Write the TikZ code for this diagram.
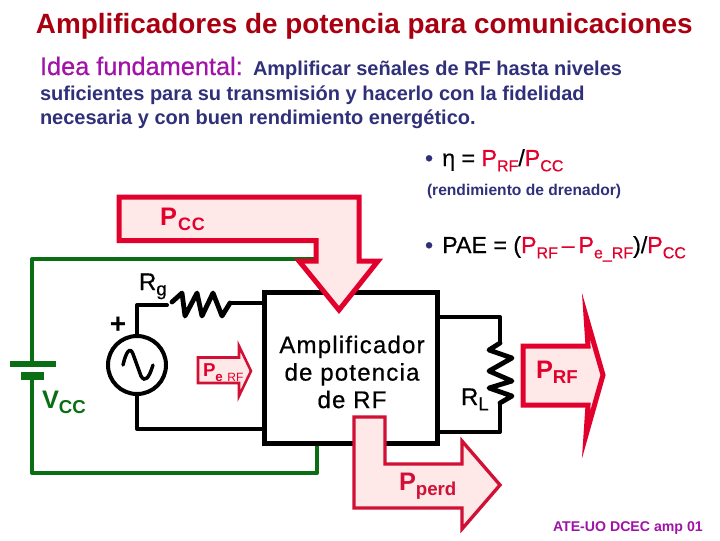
\documentclass[tikz,border=0pt]{standalone}
\usepackage{fontspec}
\setmainfont{Liberation Sans}
\newfontfamily\medfont[FakeBold=0.6]{Liberation Sans}
\usepackage{xcolor}
\usetikzlibrary{positioning,calc}
\definecolor{titlered}{HTML}{A80010}
\definecolor{ideapurple}{HTML}{A012A8}
\definecolor{inkblue}{HTML}{30307A}
\definecolor{powerred}{HTML}{E2002C}
\definecolor{lossred}{HTML}{D01034}
\definecolor{pinkbg}{HTML}{FFE8E8}
\definecolor{wiregreen}{HTML}{0A6E14}
\tikzset{
  txt/.style={anchor=base west,inner sep=0pt,outer sep=0pt},
  sz/.style={font=\fontsize{#1}{#1}\selectfont\medfont},
  szb/.style={font=\fontsize{#1}{#1}\selectfont\bfseries},
  flowarr/.style={draw=powerred,fill=pinkbg,line width=3.75pt,miter limit=12},
  blackwire/.style={draw=black,line width=3pt,line join=round,line cap=round},
  zigzag/.style={draw=black,line width=3.6pt,line join=round,line cap=round},
  greenwire/.style={draw=wiregreen,line width=3pt,line join=round},
  ampbox/.style={draw=black,fill=white,line width=3.75pt,
                 minimum width=173*0.75pt,minimum height=151*0.75pt,inner sep=0pt}
}
\newcommand{\lw}[2]{\raisebox{-4pt}{\fontsize{#1}{#1}\selectfont #2}}
\begin{document}
\begin{tikzpicture}[x=0.75pt,y=-0.75pt]
  \useasboundingbox (0,0) rectangle (720,540);
  % texts on top
  \node[txt,szb=20.9,titlered] (title) at (36,33) {Amplificadores de potencia para comunicaciones};
  \node[txt,sz=19,ideapurple] (idea) at (40,75) {Idea fundamental:};
  \node[txt,szb=15,inkblue] (line1) at (253,75) {Amplificar señales de RF hasta niveles};
  \node[txt,szb=15,inkblue] (line2) at (40,100) {suficientes para su transmisión y hacerlo con la fidelidad};
  \node[txt,szb=15,inkblue] (line3) at (40,124) {necesaria y con buen rendimiento energético.};
  % figures of merit
  \node[txt,sz=17.4] (eta) at (425,166) {\textcolor{inkblue}{•}\hspace{2pt} η = \textcolor{powerred}{P\lw{12}{RF}}/\textcolor{powerred}{P\lw{12}{CC}}};
  \node[txt,szb=11.7,inkblue] (drain) at (427,195) {(rendimiento de drenador)};
  \node[txt,sz=17.4] (pae) at (425,253) {\textcolor{inkblue}{•}\hspace{2pt} PAE = (\textcolor{powerred}{P\lw{12}{RF}\,–\,P\lw{12}{e\_RF}})/\textcolor{powerred}{P\lw{12}{CC}}};
  % supply
  \draw[greenwire] (317,445) -- (317,473) -- (32,473) -- (32,379);
  \draw[greenwire] (32,361) -- (32,259) -- (316,259);
  \draw[wiregreen,line width=4.5pt] (10,364) -- (56,364);
  \draw[wiregreen,line width=6pt] (21,376) -- (44,376);
  \node[txt,szb=19,wiregreen] (vcc) at (42,408) {V\lw{14}{CC}};
  % input side
  \node[circle,draw=black,fill=white,line width=3pt,minimum size=58*0.75pt,inner sep=0pt] (gen) at (137,365) {};
  \draw[blackwire] (gen.north) -- (137,305) -- (167,305);
  \draw[zigzag] (172,302) -- (182,293) -- (185,316) -- (197,293) -- (202,316) -- (213,293) -- (222,316) -- (230,303);
  \draw[blackwire] (230,303) -- (262,303);
  \draw[blackwire] (gen.south) -- (137,429) -- (262,429);
  \draw[black,line width=2.6pt,line cap=round] (123,365) .. controls (126,352) and (130,346) .. (133,354) -- (141,376) .. controls (145,383) and (149,378) .. (153,365);
  \node[font=\fontsize{21}{21}\selectfont\bfseries] (plus) at (118,325) {+};
  \node[txt,sz=18] (rg) at (139,290) {R\lw{14}{g}};
  \draw[flowarr,draw=lossred,line width=1.9pt] (198,357.5) -- (239,357.5) -- (239,346) -- (251,371) -- (239,396) -- (239,383) -- (198,383) -- cycle;
  \node[txt,szb=14,powerred] (pein) at (203,376) {P\lw{10}{e}\hspace{1.2mm}\lw{9}{\mdseries RF}};
  % amplifier
  \node[ampbox] (amp) at (350.5,367.5) {};
  \node[align=center,inner sep=0pt,font=\fontsize{18}{20.6}\selectfont\medfont\addfontfeature{LetterSpace=5}] (amptext) at (352,372) {Amplificador\\de potencia\\de RF};
  % load
  \draw[blackwire] (amp.east |- 0,317) -- (500,317) -- (500,343);
  \draw[zigzag] (500,343) -- (489,350) -- (512,358) -- (489,371) -- (512,381) -- (489,388) -- (512,396) -- (500,403);
  \draw[blackwire] (500,403) -- (500,432) -- (amp.east |- 0,432);
  \node[txt,sz=18] (rl) at (461,405) {R\lw{14}{L}};
  % power arrows
  \draw[flowarr] (119,197) -- (359,197) -- (359,261) -- (378,261) -- (339,310) -- (299,261) -- (316,261) -- (316,240.5) -- (119,240.5) -- cycle;
  \node[txt,szb=19,powerred] (pcc) at (160,225) {P\hspace{1pt}\lw{13.5}{\addfontfeature{LetterSpace=3}CC}};
  \draw[flowarr] (523,346) -- (588,346) -- (586,316) -- (603,375) -- (586,435) -- (588,405) -- (523,405) -- cycle;
  \node[txt,szb=19,powerred] (prf) at (536,378) {P\lw{14}{RF}};
  \draw[flowarr,draw=lossred,line width=2.5pt] (354,417) -- (385,417) -- (385,464) -- (462,464) -- (462,441) -- (500,485) -- (462,529) -- (462,508) -- (354,508) -- cycle;
  \node[txt,szb=19,lossred] (pperd) at (399,490) {P\lw{14}{perd}};
  \node[txt,szb=10.6,ideapurple] (foot) at (553,531) {ATE-UO DCEC amp 01};
\end{tikzpicture}
\end{document}
